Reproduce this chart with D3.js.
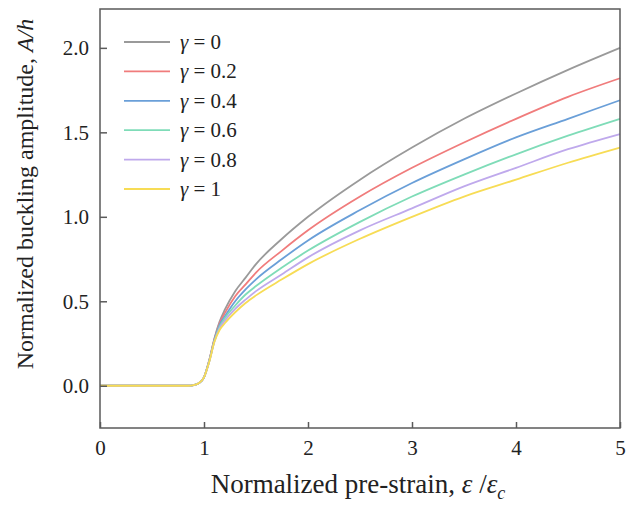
<!DOCTYPE html>
<html>
<head>
<meta charset="utf-8">
<script src="https://cdn.jsdelivr.net/npm/d3@7"></script>
<style>
  body { margin: 0; background: #fff; }
  text { font-family: "Liberation Serif", "Times New Roman", serif; fill: #222; }
</style>
</head>
<body>
<div id="chart"></div>
<script>
// strain samples (epsilon / epsilon_c)
var strain = [0, 0.5, 0.85, 0.9, 0.95, 1.0, 1.05, 1.1, 1.15, 1.2, 1.3, 1.4, 1.5, 1.75, 2, 2.5, 3, 3.5, 4, 4.5, 5];

// amplitude A/h, one list per gamma
var g0   = [0, 0, 0, 0.004, 0.015, 0.05, 0.15, 0.28, 0.38, 0.45, 0.56, 0.64, 0.72, 0.87, 1.00, 1.22, 1.41, 1.58, 1.73, 1.87, 2.00];
var g02  = [0, 0, 0, 0.004, 0.015, 0.05, 0.15, 0.275, 0.37, 0.43, 0.53, 0.60, 0.67, 0.80, 0.92, 1.12, 1.29, 1.44, 1.58, 1.71, 1.82];
var g04  = [0, 0, 0, 0.004, 0.015, 0.05, 0.145, 0.27, 0.36, 0.41, 0.50, 0.57, 0.63, 0.75, 0.86, 1.04, 1.20, 1.34, 1.47, 1.58, 1.69];
var g06  = [0, 0, 0, 0.004, 0.015, 0.05, 0.145, 0.265, 0.35, 0.40, 0.475, 0.54, 0.59, 0.70, 0.80, 0.97, 1.12, 1.25, 1.37, 1.48, 1.58];
var g08  = [0, 0, 0, 0.004, 0.015, 0.05, 0.14, 0.26, 0.34, 0.385, 0.455, 0.51, 0.56, 0.66, 0.76, 0.92, 1.05, 1.18, 1.29, 1.40, 1.49];
var g1   = [0, 0, 0, 0.004, 0.015, 0.05, 0.14, 0.26, 0.33, 0.37, 0.435, 0.49, 0.535, 0.63, 0.72, 0.87, 1.00, 1.12, 1.22, 1.32, 1.41];

var gammas = ["0", "0.2", "0.4", "0.6", "0.8", "1"];
var series = [g0, g02, g04, g06, g08, g1];
var colors = ["#9a9a9a", "#f07c7c", "#6a9fd8", "#7fdcb8", "#bfa9ec", "#f7dc55"];

var xTicks = [0, 1, 2, 3, 4, 5];
var yTicks = [0, 0.5, 1.0, 1.5, 2.0];

var W = 633, H = 507;
var m = { left: 100, right: 13, top: 9, bottom: 79 };

var svg = d3.select("#chart").append("svg")
    .attr("width", W)
    .attr("height", H);

var x = d3.scaleLinear().domain([0, 5]).range([m.left, W - m.right]);
var y = d3.scaleLinear().domain([-0.25, 2.23]).range([H - m.bottom, m.top]);

// curves
var line = d3.line()
    .x(function(d) { return x(d[0]); })
    .y(function(d) { return y(d[1]); })
    .curve(d3.curveMonotoneX);

series.forEach(function(s, i) {
  svg.append("path")
      .datum(strain.map(function(v, k) { return [v, s[k]]; }))
      .attr("fill", "none")
      .attr("stroke", colors[i])
      .attr("stroke-width", 1.8)
      .attr("d", line);
});

// frame
svg.append("rect")
    .attr("x", x(0))
    .attr("y", y(2.23))
    .attr("width", x(5) - x(0))
    .attr("height", y(-0.25) - y(2.23))
    .attr("fill", "none")
    .attr("stroke", "#5a5a5a")
    .attr("stroke-width", 1.5);

// axes with inward ticks
var xAxis = svg.append("g")
    .attr("transform", "translate(0," + y(-0.25) + ")")
    .call(d3.axisBottom(x).tickValues(xTicks).tickSizeInner(-6).tickSizeOuter(0).tickPadding(12)
      .tickFormat(d3.format("d")));

var yAxis = svg.append("g")
    .attr("transform", "translate(" + x(0) + ",0)")
    .call(d3.axisLeft(y).tickValues(yTicks).tickSizeInner(-7).tickSizeOuter(0).tickPadding(11)
      .tickFormat(d3.format(".1f")));

[xAxis, yAxis].forEach(function(a) {
  a.select(".domain").remove();
  a.selectAll(".tick line").attr("stroke", "#5a5a5a").attr("stroke-width", 1.5);
  a.selectAll(".tick text")
      .attr("font-family", "Liberation Serif, serif")
      .attr("font-size", 21)
      .attr("fill", "#222");
});

// axis titles
var xt = svg.append("text")
    .attr("x", 358)
    .attr("y", 493)
    .attr("text-anchor", "middle")
    .attr("font-size", 27);
xt.append("tspan").text("Normalized pre-strain, ");
xt.append("tspan").attr("font-style", "italic").text("ε");
xt.append("tspan").text(" /");
xt.append("tspan").attr("font-style", "italic").text("ε");
xt.append("tspan").attr("font-style", "italic").attr("font-size", 18).attr("dy", 6).text("c");

var yt = svg.append("text")
    .attr("transform", "translate(33," + 194 + ") rotate(-90)")
    .attr("text-anchor", "middle")
    .attr("font-size", 24);
yt.append("tspan").text("Normalized buckling amplitude, ");
yt.append("tspan").attr("font-style", "italic").text("A/h");

// legend
var legend = svg.append("g");
gammas.forEach(function(g, i) {
  var ly = 42 + i * 29.4;
  legend.append("line")
      .attr("x1", 124).attr("x2", 170)
      .attr("y1", ly).attr("y2", ly)
      .attr("stroke", colors[i])
      .attr("stroke-width", 1.8);
  var t = legend.append("text")
      .attr("x", 180)
      .attr("y", ly + 7)
      .attr("font-size", 21);
  t.append("tspan").attr("font-style", "italic").text("γ");
  t.append("tspan").text(" = " + g);
});
</script>
</body>
</html>
